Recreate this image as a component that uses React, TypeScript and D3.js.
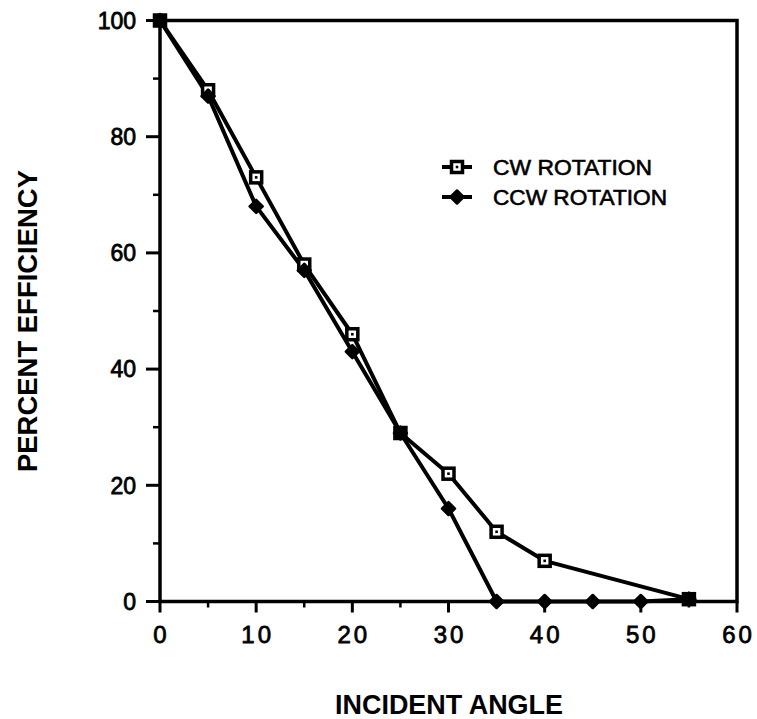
import React from "react";
import * as d3 from "d3";

const cwAngles = [0, 5, 10, 15, 20, 25, 30, 35, 40, 55];
const cwValues = [100, 88, 73, 58, 46, 29, 22, 12, 7, 0.4];
const ccwAngles = [0, 5, 10, 15, 20, 25, 30, 35, 40, 45, 50, 55];
const ccwValues = [100, 87, 68, 57, 43, 29, 16, 0, 0, 0, 0, 0.4];
const xMajorTicks = [0, 10, 20, 30, 40, 50, 60];
const xMinorTicks = [5, 15, 25, 35, 45, 55];
const yMajorTicks = [0, 20, 40, 60, 80, 100];
const yMinorTicks = [10, 30, 50, 70, 90];
const legendLabels = ["CW ROTATION", "CCW ROTATION"];

const W = 757;
const H = 719;
const left = 160;
const right = 737;
const top = 20.5;
const bottom = 601.5;

export default function App() {
  const x = d3.scaleLinear().domain([0, 60]).range([left, right]);
  const y = d3.scaleLinear().domain([0, 100]).range([bottom, top]);
  const cw = cwAngles.map((a, i) => [a, cwValues[i]] as [number, number]);
  const ccw = ccwAngles.map((a, i) => [a, ccwValues[i]] as [number, number]);
  const line = d3
    .line<[number, number]>()
    .x((d) => x(d[0]))
    .y((d) => y(d[1]));
  const font = "'Liberation Sans', Arial, Helvetica, sans-serif";

  const square = (cx: number, cy: number, k: string) => (
    <g key={k}>
      <rect x={cx - 5.5} y={cy - 5.5} width={11} height={11} fill="white" stroke="black" strokeWidth={3.5} />
      <rect x={cx - 1.3} y={cy - 1.3} width={2.6} height={2.6} fill="black" />
    </g>
  );
  const diamond = (cx: number, cy: number, k: string) => (
    <path
      key={k}
      d={`M${cx},${cy - 6.5} L${cx + 6.5},${cy} L${cx},${cy + 6.5} L${cx - 6.5},${cy} Z`}
      fill="black"
      stroke="black"
      strokeWidth={2.5}
      strokeLinejoin="round"
    />
  );

  return (
    <svg
      width={W}
      height={H}
      style={{ position: "absolute", left: 0, top: 0, background: "white" }}
      fontFamily={font}
    >
      <rect x={0} y={0} width={W} height={H} fill="white" />
      {/* frame */}
      <rect x={left} y={top} width={right - left} height={bottom - top} fill="none" stroke="black" strokeWidth={3.5} />
      {/* y ticks */}
      {yMajorTicks.map((t) => (
        <g key={"ym" + t}>
          <line x1={left - 14} x2={left} y1={y(t)} y2={y(t)} stroke="black" strokeWidth={3} />
          <text
            x={136}
            y={y(t)}
            dy="0.36em"
            textAnchor="end"
            fontSize={23}
            stroke="black"
            strokeWidth={0.8}
          >
            {t}
          </text>
        </g>
      ))}
      {yMinorTicks.map((t) => (
        <line key={"yn" + t} x1={left - 7} x2={left} y1={y(t)} y2={y(t)} stroke="black" strokeWidth={2.5} />
      ))}
      {/* x ticks */}
      {xMajorTicks.map((t) => (
        <g key={"xm" + t}>
          <line x1={x(t)} x2={x(t)} y1={bottom} y2={bottom + 11} stroke="black" strokeWidth={3} />
          <text
            x={x(t)}
            y={643}
            dx={1.5}
            textAnchor="middle"
            fontSize={24}
            letterSpacing={3}
            stroke="black"
            strokeWidth={0.8}
          >
            {t}
          </text>
        </g>
      ))}
      {xMinorTicks.map((t) => (
        <line key={"xn" + t} x1={x(t)} x2={x(t)} y1={bottom} y2={bottom + 6} stroke="black" strokeWidth={2.5} />
      ))}
      {/* lines */}
      <path d={line(cw) || ""} fill="none" stroke="black" strokeWidth={4} strokeLinejoin="round" />
      <path d={line(ccw) || ""} fill="none" stroke="black" strokeWidth={4} strokeLinejoin="round" />
      {cw.map((d, i) => square(x(d[0]), y(d[1]), "s" + i))}
      {ccw.map((d, i) => diamond(x(d[0]), y(d[1]), "d" + i))}
      {/* legend */}
      <line x1={442} x2={472} y1={167} y2={167} stroke="black" strokeWidth={4} />
      {square(457, 167, "ls")}
      <text x={493} y={174.5} fontSize={22} textLength={159} lengthAdjust="spacingAndGlyphs" stroke="black" strokeWidth={0.6}>
        {legendLabels[0]}
      </text>
      <line x1={442} x2={472} y1={197} y2={197} stroke="black" strokeWidth={4} />
      {diamond(457, 197, "ld")}
      <text x={493} y={204.5} fontSize={22} textLength={174} lengthAdjust="spacingAndGlyphs" stroke="black" strokeWidth={0.6}>
        {legendLabels[1]}
      </text>
      {/* axis titles */}
      <text
        transform={`translate(36.5, 321) rotate(-90)`}
        textAnchor="middle"
        fontSize={28}
        fontWeight="bold"
        textLength={302}
        lengthAdjust="spacingAndGlyphs"
      >
        PERCENT EFFICIENCY
      </text>
      <text
        x={449}
        y={714}
        textAnchor="middle"
        fontSize={28}
        fontWeight="bold"
        textLength={228}
        lengthAdjust="spacingAndGlyphs"
      >
        INCIDENT ANGLE
      </text>
    </svg>
  );
}
